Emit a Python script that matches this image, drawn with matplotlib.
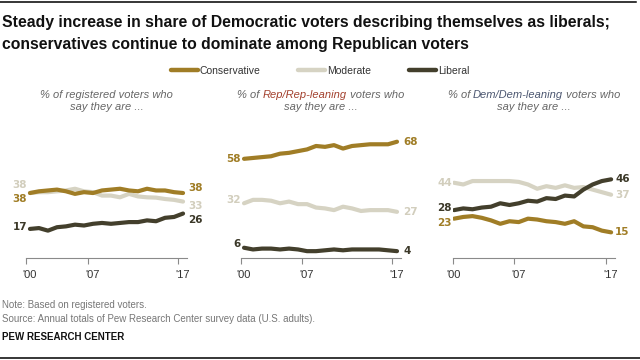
import numpy as np
import matplotlib
matplotlib.use("Agg")
import matplotlib.pyplot as plt
from matplotlib.lines import Line2D

years = np.arange(2000, 2018)
year_ticks = [2000, 2007, 2017]
year_labels = ["'00", "'07", "'17"]

series_names = ["Conservative", "Moderate", "Liberal"]

# % of registered voters
reg_cons = [38, 39, 39.5, 40, 39, 37.5, 38.5, 38, 39.5, 40, 40.5, 39.5, 39, 40.5, 39.5, 39.5, 38.5, 38]
reg_mod = [38, 38.5, 38.5, 39, 39.5, 40.5, 39, 38.5, 36.5, 36.5, 35.5, 37.5, 36, 35.5, 35.3, 34.5, 34, 33]
reg_lib = [17, 17.5, 16, 18, 18.5, 19.5, 19, 20, 20.5, 20, 20.5, 21, 21, 22, 21.5, 23.5, 24, 26]

# % of Rep/Rep-leaning voters
rep_cons = [58, 58.5, 59, 59.5, 61, 61.5, 62.5, 63.5, 65.5, 65, 66, 64, 65.5, 66, 66.5, 66.5, 66.5, 68]
rep_mod = [32, 34, 34, 33.5, 32, 33, 31.5, 31.5, 29.5, 29, 28, 30, 29, 27.5, 28, 28, 28, 27]
rep_lib = [6, 5, 5.5, 5.5, 5, 5.5, 5, 4, 4, 4.5, 5, 4.5, 5, 5, 5, 5, 4.5, 4]

# % of Dem/Dem-leaning voters
dem_cons = [23, 24, 24.5, 23.5, 22, 20, 21.5, 21, 23, 22.5, 21.5, 21, 20, 21.5, 18.5, 18, 16, 15]
dem_mod = [44, 43, 45, 45, 45, 45, 45, 44.5, 43, 40.5, 42, 41, 42.5, 41, 41.5, 40, 38.5, 37]
dem_lib = [28, 29, 28.5, 29.5, 30, 32, 31, 32, 33.5, 33, 35, 34.5, 36.5, 36, 40, 43, 45, 46]

colors = {"Conservative": "#a07d26", "Moderate": "#d6d3c3", "Liberal": "#433f2c"}
label_colors = {"Conservative": "#a07d26", "Moderate": "#d2cebd", "Liberal": "#3b3828"}

SANS = ["Liberation Sans", "DejaVu Sans"]
NARROW = ["Liberation Sans Narrow", "Liberation Sans", "DejaVu Sans"]

W, H = 640, 360
fig = plt.figure(figsize=(6.4, 3.6), dpi=100)


def fx(x):
    return x / W


def fy(y):
    return 1 - y / H


# thin rules top and bottom
fig.add_artist(Line2D([0, fx(636)], [fy(2), fy(2)], color="black", lw=1.1))
fig.add_artist(Line2D([0, 1], [fy(358), fy(358)], color="black", lw=1.1))

fig.text(fx(2), fy(23), "Steady increase in share of Democratic voters describing themselves as liberals;",
         fontsize=11.3, fontweight="bold", family=NARROW, va="center", ha="left", color="#111")
fig.text(fx(2), fy(45), "conservatives continue to dominate among Republican voters",
         fontsize=11.3, fontweight="bold", family=NARROW, va="center", ha="left", color="#111")

# legend
handles = [Line2D([], [], color=colors[n], lw=3.2, solid_capstyle="round") for n in series_names]
fig.legend(handles, series_names, loc="center", bbox_to_anchor=(fx(320), fy(71)), ncol=3,
           frameon=False, prop={"family": SANS, "size": 7.5}, handlelength=2.6,
           handletextpad=0.2, columnspacing=3.6, labelcolor="#333")

panels = [
    {"data": [reg_mod, reg_cons, reg_lib], "box": (26, 187), "xlim": (1999.56, 2017.44),
     "sub": [("% of registered voters who", "#666")],
     "left_off": {"Moderate": (-3, 8), "Conservative": (-3, -6), "Liberal": (-3, 2)},
     "right_off": {"Moderate": (5, -4), "Conservative": (5, 5), "Liberal": (5, -6)}},
    {"data": [rep_mod, rep_cons, rep_lib], "box": (240.7, 400.7), "xlim": (1999.63, 2017.41),
     "sub": [("% of ", "#666"), ("Rep/Rep-leaning", "#a3412e"), (" voters who", "#666")],
     "left_off": {"Moderate": (-3, 3), "Conservative": (-3, 0), "Liberal": (-3, 4)},
     "right_off": {"Moderate": (6, 0), "Conservative": (6, 0), "Liberal": (6, 0)}},
    {"data": [dem_mod, dem_cons, dem_lib], "box": (453.3, 615), "xlim": (1999.92, 2017.42),
     "sub": [("% of ", "#666"), ("Dem/Dem-leaning", "#4b5670"), (" voters who", "#666")],
     "left_off": {"Moderate": (-2, 0), "Conservative": (-2, -4), "Liberal": (-2, 2)},
     "right_off": {"Moderate": (4, 0), "Conservative": (4, 0), "Liberal": (4, 0)}},
]
draw_order = ["Moderate", "Conservative", "Liberal"]

base_y = 258
px_per_pt = 1.71
ytop = 75
sub_pieces = []

for p in panels:
    x0, x1 = p["box"]
    ax = fig.add_axes([fx(x0), fy(base_y), (x1 - x0) / W, ytop * px_per_pt / H])
    ax.set_xlim(*p["xlim"])
    ax.set_ylim(0, ytop)
    for name, vals in zip(draw_order, p["data"]):
        ax.plot(years, vals, color=colors[name], lw=3, solid_capstyle="round",
                solid_joinstyle="round")
        dx, dy = p["left_off"][name]
        ax.annotate(f"{vals[0]:.0f}", xy=(years[0], vals[0]), xytext=(dx, dy),
                    textcoords="offset pixels", ha="right", va="center",
                    fontsize=7.5, fontweight="bold", color=label_colors[name], family="DejaVu Sans")
        dx, dy = p["right_off"][name]
        ax.annotate(f"{vals[-1]:.0f}", xy=(years[-1], vals[-1]), xytext=(dx, dy),
                    textcoords="offset pixels", ha="left", va="center",
                    fontsize=7.5, fontweight="bold", color=label_colors[name], family="DejaVu Sans")
    for s in ["top", "left", "right"]:
        ax.spines[s].set_visible(False)
    ax.spines["bottom"].set_color("#8a8a8a")
    ax.spines["bottom"].set_linewidth(0.8)
    ax.set_yticks([])
    ax.set_xticks([p["xlim"][0], 2006.45, 2016.45])
    ax.tick_params(axis="x", which="major", length=4, width=0.8, color="#8a8a8a", labelbottom=False)
    ax.set_xticks(year_ticks, minor=True)
    ax.set_xticklabels(year_labels, minor=True)
    ax.tick_params(axis="x", which="minor", length=0, pad=9, labelsize=8, labelcolor="#333")
    for t in ax.get_xticklabels(minor=True):
        t.set_family(SANS)
    ax.patch.set_visible(False)

    cx = (x0 + x1) / 2
    texts = []
    for s, c in p["sub"]:
        texts.append(fig.text(0, fy(95), s, fontsize=8, style="italic", family=SANS,
                              color=c, ha="left", va="center"))
    sub_pieces.append((cx, texts))
    fig.text(fx(cx), fy(106.5), "say they are ...", fontsize=8, style="italic", family=SANS,
             color="#666", ha="center", va="center")

# center multi-colour subtitle lines
fig.canvas.draw()
r = fig.canvas.get_renderer()
for cx, texts in sub_pieces:
    widths = [t.get_window_extent(r).width for t in texts]
    x = cx - sum(widths) / 2
    for t, w in zip(texts, widths):
        t.set_x(fx(x))
        x += w

fig.text(fx(2), fy(305), "Note: Based on registered voters.", fontsize=7, family=SANS,
         color="#777", va="center")
fig.text(fx(2), fy(318.5), "Source: Annual totals of Pew Research Center survey data (U.S. adults).",
         fontsize=7, family=SANS, color="#777", va="center")
fig.text(fx(2), fy(337.5), "PEW RESEARCH CENTER", fontsize=7, fontweight="bold", family=SANS,
         color="#111", va="center")

fig.savefig("out.png", dpi=100)
